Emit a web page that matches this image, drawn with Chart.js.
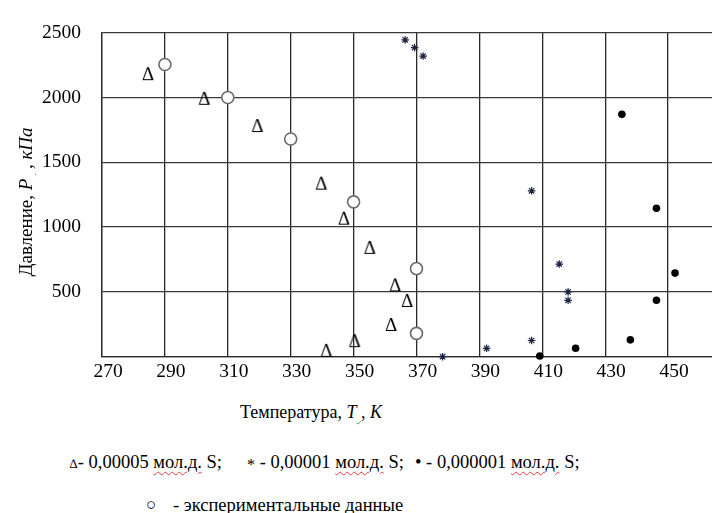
<!DOCTYPE html>
<html>
<head>
<meta charset="utf-8">
<script src="https://cdn.jsdelivr.net/npm/chart.js@4.4.1/dist/chart.umd.min.js"></script>
<style>
  html, body { margin: 0; padding: 0; background: #fff; overflow: hidden; }
  #wrap { position: relative; width: 712px; height: 513px; overflow: hidden; background: #fff; }
  #cv { position: absolute; left: 0; top: 0; }
  .t { position: absolute; font-family: "Liberation Serif", "Times New Roman", serif; color: #000; white-space: nowrap; line-height: 20px; height: 20px; }
  .i { font-style: italic; }
  .r { text-decoration: underline wavy #e04040; text-decoration-thickness: 1px; text-underline-offset: 3px; }
  .g { text-decoration: underline wavy #3a9a3a; text-decoration-thickness: 1px; text-underline-offset: 2px; }
</style>
</head>
<body>
<div id="wrap">
  <canvas id="cv" width="760" height="400"></canvas>
  <div class="t" style="font-size:19px; width:260px; text-align:center; left:-104px; top:192px; transform: rotate(-90deg);">Давление, <span class="i">P</span><span class="g">&nbsp;</span> , <span class="i">кПа</span></div>
  <div class="t" style="font-size:18px; width:260px; text-align:center; left:181px; top:402px;">Температура, <span class="i">T</span><span class="g">&nbsp;</span>, <span class="i">K</span></div>
  <div class="t" style="font-size:18.5px; right:490px; top:452px;"><span style="font-size:13px">∆</span>- 0,00005 <span class="r">мол.д.</span> S;</div>
  <div class="t" style="font-size:18.5px; left:247px; top:452px;"><span style="font-size:16px; position:relative; top:2px;">*</span> - 0,00001 <span class="r">мол.д.</span> S;</div>
  <div class="t" style="font-size:18.5px; left:415px; top:452px;">• - 0,000001 <span class="r">мол.д.</span> S;</div>
  <div class="t" style="font-size:17px; left:146px; top:495px;">○</div>
  <div class="t" style="font-size:18.5px; left:173px; top:495px;">- экспериментальные данные</div>
</div>
<script>
// ---- data (T in K, P in kPa) ----
const xTickStart = 270, xTickEnd = 470, xTickStep = 20;
const yTickStart = 0, yTickEnd = 2500, yTickStep = 500;

const tri_T = [284.6, 302.5, 319.4, 339.7, 346.9, 355.1, 363.2, 367.0, 361.9, 350.3, 341.3];
const tri_P = [2180, 1990, 1780, 1335, 1065, 840, 550, 430, 245, 120, 45];

const exp_T = [290, 310, 330, 350, 370, 370];
const exp_P = [2255, 2000, 1680, 1195, 680, 180];

const star_T = [366.4, 369.4, 372.1, 406.6, 415.4, 418.2, 418.2, 406.6, 392.3, 378.3];
const star_P = [2445, 2385, 2320, 1280, 715, 500, 435, 125, 65, 0];

const dot_T = [435.3, 446.3, 452.2, 446.3, 438.0, 420.6, 409.2];
const dot_P = [1870, 1145, 645, 435, 130, 65, 5];

const seriesNames = ['0,00005 мол.д. S', '0,00001 мол.д. S', '0,000001 мол.д. S', 'экспериментальные данные'];

function pts(xs, ys) { return xs.map((x, i) => ({ x: x, y: ys[i] })); }

// Delta glyph marker
const triImg = document.createElement('canvas');
triImg.width = 18; triImg.height = 18;
(function () {
  const c = triImg.getContext('2d');
  c.fillStyle = '#000';
  c.font = '19px "Liberation Serif"';
  c.textAlign = 'center';
  c.textBaseline = 'alphabetic';
  c.fillText('Δ', 9, 15.3);
})();

const FONT = { family: '"Liberation Serif", "Times New Roman", serif', size: 19.5 };

new Chart(document.getElementById('cv'), {
  type: 'scatter',
  data: {
    datasets: [
      { label: seriesNames[3], data: pts(exp_T, exp_P), pointStyle: 'circle', radius: 6, pointHoverRadius: 6,
        backgroundColor: '#fff', borderColor: '#6a6a6a', borderWidth: 1.6, clip: false, order: 3 },
      { label: seriesNames[0], data: pts(tri_T, tri_P), pointStyle: triImg, radius: 6, clip: false, order: 1 },
      { label: seriesNames[1], data: pts(star_T, star_P), pointStyle: 'star', radius: 3.8, pointHoverRadius: 3.8,
        borderColor: '#1c2340', backgroundColor: '#1c2340', borderWidth: 1.2, clip: false, order: 2 },
      { label: seriesNames[2], data: pts(dot_T, dot_P), pointStyle: 'circle', radius: 3.8, pointHoverRadius: 3.8,
        borderColor: '#000', backgroundColor: '#000', borderWidth: 0, clip: false, order: 2 }
    ]
  },
  options: {
    responsive: false,
    animation: false,
    events: [],
    layout: { padding: { top: 26, left: 0, right: 29, bottom: 0 } },
    plugins: { legend: { display: false }, tooltip: { enabled: false } },
    scales: {
      x: {
        type: 'linear', min: xTickStart, max: xTickEnd,
        ticks: { stepSize: xTickStep, font: FONT, color: '#000', padding: 3, labelOffset: 6, maxRotation: 0 },
        grid: { color: '#2a2a2a', lineWidth: 1.3, drawTicks: false },
        border: { color: '#2a2a2a', width: 1.3 },
        afterFit: s => { s.height = 43.3; }
      },
      y: {
        type: 'linear', min: yTickStart, max: yTickEnd,
        ticks: { stepSize: yTickStep, font: FONT, color: '#000', padding: 21,
                 callback: v => (v === 0 ? '' : String(v)) },
        grid: { color: '#3a3a3a', lineWidth: 1.3, drawTicks: false },
        border: { color: '#2a2a2a', width: 1.3 },
        afterFit: s => { s.width = 102; }
      }
    }
  }
});
</script>
</body>
</html>
